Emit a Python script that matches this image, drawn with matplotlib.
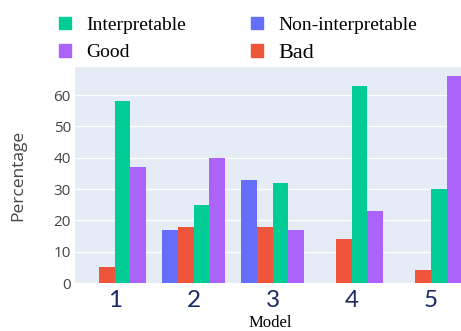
import numpy as np
import matplotlib
matplotlib.use("Agg")
import matplotlib.pyplot as plt
from matplotlib.patches import Patch

models = ["1", "2", "3", "4", "5"]
non_interpretable = [0, 17, 33, 0, 0]
bad = [5, 18, 18, 14, 4]
interpretable = [58, 25, 32, 63, 30]
good = [37, 40, 17, 23, 66]

c_blue = "#636EFA"
c_red = "#EF553B"
c_green = "#00CC96"
c_purple = "#AB63FA"

fig = plt.figure(figsize=(4.61, 3.31), dpi=100)
ax = fig.add_axes([0.163, 0.145, 0.857, 0.653])
ax.set_facecolor("#E5ECF6")

x = np.arange(len(models))
w = 0.2
ax.bar(x - 1.5 * w, non_interpretable, w, color=c_blue, zorder=3)
ax.bar(x - 0.5 * w, bad, w, color=c_red, zorder=3)
ax.bar(x + 0.5 * w, interpretable, w, color=c_green, zorder=3)
ax.bar(x + 1.5 * w, good, w, color=c_purple, zorder=3)

ax.set_xlim(-0.5, 4.5)
ax.set_ylim(0, 69)
ax.set_yticks(range(0, 61, 10))
ax.yaxis.grid(True, color="white", linewidth=1, zorder=0)
for s in ax.spines.values():
    s.set_visible(False)

ax.set_xticks(x)
ax.set_xticklabels(models, fontsize=17.5, family="Lato", color="#1c2a66")
ax.tick_params(axis="x", length=0, pad=5)
ax.tick_params(axis="y", length=0, pad=3, labelsize=11, labelcolor="#444444")
for t in ax.get_yticklabels():
    t.set_family("Open Sans")

fig.text(270 / 461, 1 - 323 / 331, "Model", family="Liberation Serif",
         fontsize=12, ha="center", va="center")
fig.text(18 / 461, 1 - 175 / 331, "Percentage", family="Open Sans",
         fontsize=12.5, color="#444444", rotation=90, ha="center", va="center")

handles = [Patch(color=c_green), Patch(color=c_purple),
           Patch(color=c_blue), Patch(color=c_red)]
labels = ["Interpretable", "Good", "Non-interpretable", "Bad"]
leg = fig.legend(handles, labels, ncol=2, loc="upper left",
                 bbox_to_anchor=(41 / 461, 1 + 1 / 331), frameon=False,
                 prop={"family": "Liberation Serif", "size": 14},
                 handlelength=0.65, handleheight=0.65, handletextpad=0.8,
                 labelspacing=0.5, columnspacing=3.3)
leg.get_texts()[3].set_fontsize(16)

fig.savefig("out.png", dpi=100)
